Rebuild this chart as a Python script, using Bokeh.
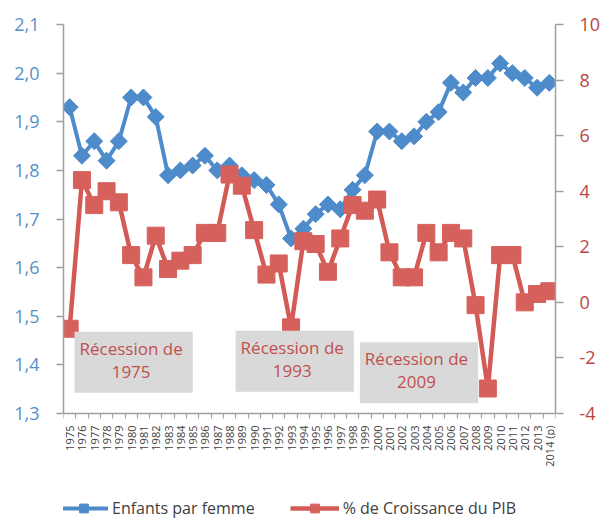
from bokeh.plotting import figure
from bokeh.models import (Range1d, LinearAxis, FixedTicker, CustomJSTickFormatter,
                          Legend, LegendItem, Label, ColumnDataSource)
from bokeh.embed import file_html
from bokeh.resources import INLINE
import math

years = ["1975", "1976", "1977", "1978", "1979", "1980", "1981", "1982", "1983", "1984",
         "1985", "1986", "1987", "1988", "1989", "1990", "1991", "1992", "1993", "1994",
         "1995", "1996", "1997", "1998", "1999", "2000", "2001", "2002", "2003", "2004",
         "2005", "2006", "2007", "2008", "2009", "2010", "2011", "2012", "2013", "2014 (p)"]

enfants = [1.93, 1.83, 1.86, 1.82, 1.86, 1.95, 1.95, 1.91, 1.79, 1.80,
           1.81, 1.83, 1.80, 1.81, 1.79, 1.78, 1.77, 1.73, 1.66, 1.68,
           1.71, 1.73, 1.72, 1.76, 1.79, 1.88, 1.88, 1.86, 1.87, 1.90,
           1.92, 1.98, 1.96, 1.99, 1.99, 2.02, 2.00, 1.99, 1.97, 1.98]

pib = [-0.95, 4.4, 3.5, 4.0, 3.6, 1.7, 0.9, 2.4, 1.2, 1.5,
       1.7, 2.5, 2.5, 4.6, 4.2, 2.6, 1.0, 1.4, -0.9, 2.2,
       2.1, 1.1, 2.3, 3.5, 3.3, 3.7, 1.8, 0.9, 0.9, 2.5,
       1.8, 2.5, 2.3, -0.1, -3.1, 1.7, 1.7, 0.0, 0.3, 0.4]

left_ticks = [1.3, 1.4, 1.5, 1.6, 1.7, 1.8, 1.9, 2.0, 2.1]
right_ticks = [-4, -2, 0, 2, 4, 6, 8, 10]

recessions = ["Récession de\n1975", "Récession de\n1993", "Récession de\n2009"]

FONT = "Open Sans"
BLUE = "#4E8BCA"
RED = "#D35A55"
GRAY_AXIS = "#A0A0A0"

# layout: plotting area 389 px tall; frame continues 106 px lower for axis labels + legend
PLOT_H = 389
EXTRA_H = 106
L_MIN, L_MAX = left_ticks[0], left_ticks[-1]
R_MIN, R_MAX = right_ticks[0], right_ticks[-1]
l_bottom = L_MIN - EXTRA_H * (L_MAX - L_MIN) / PLOT_H
r_bottom = R_MIN - EXTRA_H * (R_MAX - R_MIN) / PLOT_H

idx = list(range(len(years)))
src = ColumnDataSource(dict(x=idx, enf=enfants, pib=pib))

p = figure(frame_width=492, frame_height=PLOT_H + EXTRA_H, output_backend="svg",
           toolbar_location=None,
           x_range=Range1d(-0.5, len(years) - 0.5), y_range=Range1d(l_bottom, L_MAX),
           min_border_left=63, min_border_right=49, min_border_top=24, min_border_bottom=0)
p.extra_y_ranges = {"right": Range1d(r_bottom, R_MAX)}
p.outline_line_color = None
p.xgrid.grid_line_color = None
p.ygrid.grid_line_color = None
p.background_fill_color = "white"
p.border_fill_color = "white"

# left axis
ya = p.yaxis[0]
ya.bounds = (L_MIN, L_MAX)
ya.ticker = FixedTicker(ticks=left_ticks)
ya.formatter = CustomJSTickFormatter(code="return tick.toFixed(1).replace('.', ',');")
ya.axis_line_color = GRAY_AXIS
ya.axis_line_width = 1.5
ya.major_tick_line_color = GRAY_AXIS
ya.major_tick_line_width = 1.5
ya.major_tick_in = 0
ya.major_tick_out = 7
ya.minor_tick_line_color = None
ya.major_label_standoff = 17
ya.major_label_text_font = FONT
ya.major_label_text_font_size = "18px"
ya.major_label_text_color = "#5690CC"

# right axis
ra = LinearAxis(y_range_name="right", ticker=FixedTicker(ticks=right_ticks), bounds=(R_MIN, R_MAX))
ra.formatter = CustomJSTickFormatter(code="return tick.toString();")
ra.axis_line_color = GRAY_AXIS
ra.axis_line_width = 1.5
ra.major_tick_line_color = GRAY_AXIS
ra.major_tick_line_width = 1.5
ra.major_tick_in = 0
ra.major_tick_out = 8
ra.minor_tick_line_color = None
ra.major_label_standoff = 16
ra.major_label_text_font = FONT
ra.major_label_text_font_size = "18px"
ra.major_label_text_color = "#B8453F"
p.add_layout(ra, "right")

# x axis, pinned at the bottom of the left scale
xa = p.xaxis[0]
xa.fixed_location = L_MIN
xa.ticker = FixedTicker(ticks=idx, minor_ticks=[i - 0.5 for i in range(len(years) + 1)])
xa.major_label_overrides = {i: y for i, y in enumerate(years)}
xa.major_label_orientation = math.pi / 2
xa.major_tick_in = 0
xa.major_tick_out = 0
xa.major_tick_line_color = None
xa.minor_tick_in = 0
xa.minor_tick_out = 5
xa.minor_tick_line_color = GRAY_AXIS
xa.minor_tick_line_width = 1.2
xa.axis_line_color = GRAY_AXIS
xa.axis_line_width = 1.5
xa.major_label_standoff = 7
xa.major_label_text_font = FONT
xa.major_label_text_font_size = "11px"
xa.major_label_text_color = "#404040"

# series
bl = p.line("x", "enf", source=src, line_color=BLUE, line_width=4)
bm = p.scatter("x", "enf", source=src, marker="square", angle=math.pi / 4, size=12,
               fill_color=BLUE, line_color=BLUE)
rl = p.line("x", "pib", source=src, line_color=RED, line_width=4.5, y_range_name="right")
rm = p.scatter("x", "pib", source=src, marker="square", size=17,
               fill_color="#D6605B", line_color="#D6605B", y_range_name="right")

# recession labels
label_pos = [(5.2, 1.4055), (18.3, 1.4076), (28.4, 1.384)]
for txt, (lx, ly) in zip(recessions, label_pos):
    p.add_layout(Label(x=lx, y=ly, text=txt, text_align="center", text_baseline="middle",
                       text_font=FONT, text_font_size="17px", text_color="#C0504D",
                       text_line_height=1.0,
                       background_fill_color="#D9D9D9", padding=(5, 10, 5, 10)))

legend = Legend(items=[LegendItem(label="Enfants par femme", renderers=[bl, bm]),
                       LegendItem(label="% de Croissance du PIB", renderers=[rl, rm])],
                orientation="horizontal", location=(-4, 0),
                glyph_width=49, glyph_height=22, label_standoff=4, spacing=35,
                padding=0, margin=0, border_line_color=None, background_fill_alpha=0,
                label_text_font=FONT, label_text_font_size="16px", label_text_color="#404040")
p.add_layout(legend, "center")

open("out.html", "w").write(file_html(p, INLINE))
